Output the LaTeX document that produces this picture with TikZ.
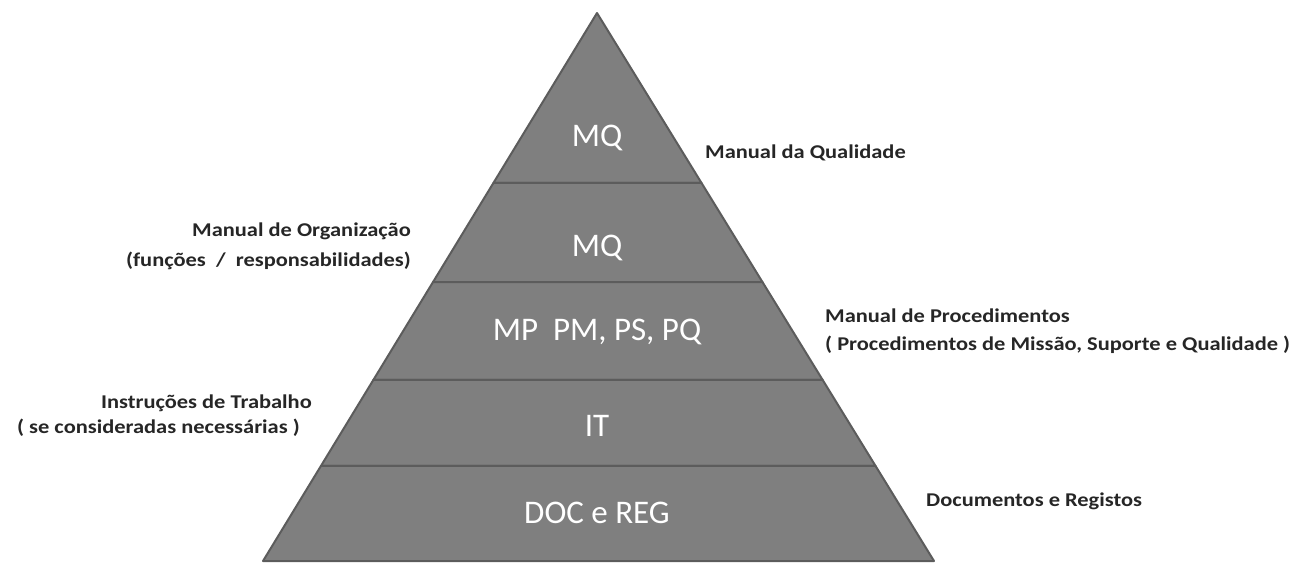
\documentclass[tikz,border=0pt]{standalone}
\usepackage{fontspec}
\setmainfont{Carlito}
\newfontfamily\labfont[FakeStretch=1.15]{Carlito}
\begin{document}
\begin{tikzpicture}[x=1pt,y=-1pt,
  layer/.style={fill=pyrfill,draw=pyredge,line width=2pt,line join=round},
  inlabel/.style={text=white,font=\fontsize{33}{36}\selectfont,inner sep=0pt,anchor=base},
  sidelabel/.style={text=black!85,font=\labfont\bfseries\fontsize{19.5}{24}\selectfont,inner sep=0pt}]
\definecolor{pyrfill}{HTML}{7F7F7F}
\definecolor{pyredge}{HTML}{5C5C5C}
\useasboundingbox (0,0) rectangle (1300,562);
% pyramid corners
\coordinate (A) at (597,13);
\coordinate (L) at (263,561);
\coordinate (R) at (934,561);
% layer boundaries (y = 183, 282, 380, 466)
\path (A) -- (L) coordinate[pos=0.3102] (l1) coordinate[pos=0.4909] (l2) coordinate[pos=0.6697] (l3) coordinate[pos=0.8266] (l4);
\path (A) -- (R) coordinate[pos=0.3102] (r1) coordinate[pos=0.4909] (r2) coordinate[pos=0.6697] (r3) coordinate[pos=0.8266] (r4);
\draw[layer] (A) -- (r1) -- (l1) -- cycle;
\draw[layer] (l1) -- (r1) -- (r2) -- (l2) -- cycle;
\draw[layer] (l2) -- (r2) -- (r3) -- (l3) -- cycle;
\draw[layer] (l3) -- (r3) -- (r4) -- (l4) -- cycle;
\draw[layer] (l4) -- (r4) -- (R) -- (L) -- cycle;
% inner labels
\node[inlabel] (t1) at (597,146) {MQ};
\node[inlabel] (t2) at (597,256) {MQ};
\node[inlabel] (t3) at (597,340) {MP\ \ PM, PS, PQ};
\node[inlabel] (t4) at (597,436) {IT};
\node[inlabel] (t5) at (597,523) {DOC e REG};
% side labels
\node[sidelabel,anchor=base west] (s1) at (705,158) {Manual da Qualidade};
\node[sidelabel,anchor=base east] (s2a) at (411,236) {Manual de Organização};
\node[sidelabel,anchor=base east] (s2b) at (411,266) {(funções\ \ /\ \ responsabilidades)};
\node[sidelabel,anchor=base west] (s3a) at (825,322) {Manual de Procedimentos};
\node[sidelabel,anchor=base west] (s3b) at (825,350) {( Procedimentos de Missão, Suporte e Qualidade )};
\node[sidelabel,anchor=base east] (s4a) at (312,408) {Instruções de Trabalho};
\node[sidelabel,anchor=base east] (s4b) at (300,433) {( se consideradas necessárias )};
\node[sidelabel,anchor=base west] (s5) at (926,506) {Documentos e Registos};
\end{tikzpicture}
\end{document}
